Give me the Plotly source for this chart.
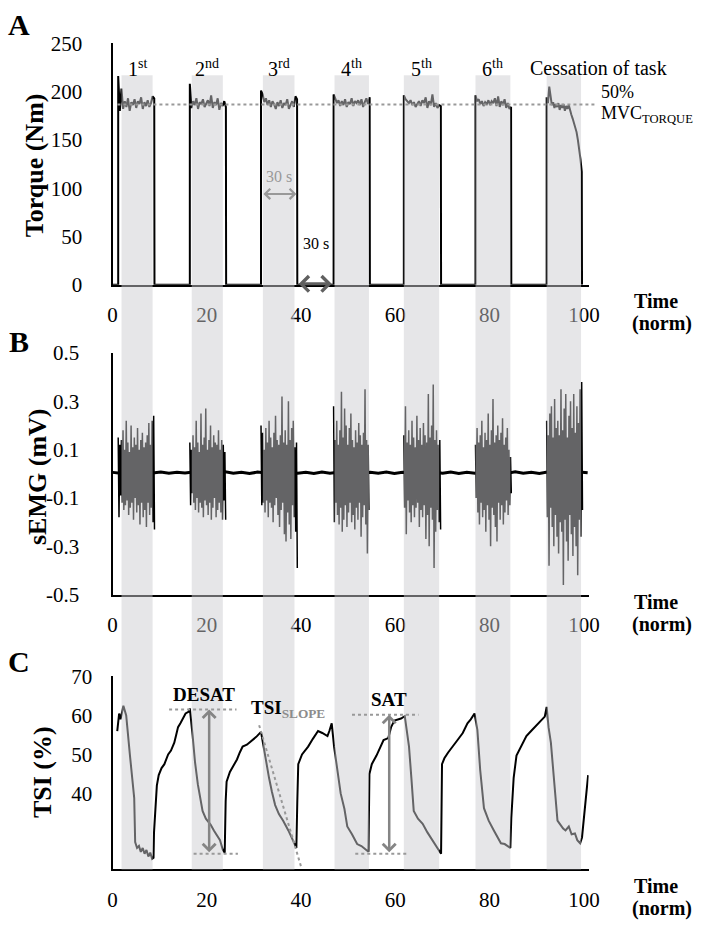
import numpy as np
import plotly.graph_objects as go

W, H = 713, 934
FONT = "Liberation Serif, Times New Roman, Times, serif"

# shared time axis (normalised time)
x_ticks = [0, 20, 40, 60, 80, 100]
ordinals = ["1<sup>st</sup>", "2<sup>nd</sup>", "3<sup>rd</sup>",
            "4<sup>th</sup>", "5<sup>th</sup>", "6<sup>th</sup>"]

# contraction windows (grey bands)
band_start = [1.9, 16.8, 31.9, 47.1, 61.8, 77.0, 92.1]
band_end = [8.5, 23.4, 38.6, 54.4, 69.3, 84.4, 99.4]

# --- A: torque (Nm)
torque_ticks = [0, 50, 100, 150, 200, 250]
torque_target = 186.5
torque_on = [1.2, 16.4, 31.5, 46.9, 61.8, 77.0, 92.1]
torque_off = [8.9, 24.1, 39.2, 54.6, 69.7, 84.6, 99.6]
torque_1 = [216, 180, 203, 182, 190, 184, 193, 180, 189, 186, 192, 183, 190, 187,
            194, 182, 189, 185, 191, 184, 188, 195, 193]
torque_2 = [208, 183, 190, 186, 193, 182, 189, 187, 192, 184, 188, 191, 185, 196,
            183, 189, 186, 193, 181, 188, 185, 190, 184]
torque_3 = [201, 197, 189, 193, 186, 191, 184, 190, 187, 182, 189, 185, 191, 183,
            188, 186, 192, 182, 187, 190, 184, 195, 192]
torque_4 = [197, 193, 188, 191, 185, 190, 186, 192, 184, 189, 187, 193, 185, 190,
            188, 191, 186, 192, 184, 189, 193, 187, 194]
torque_5 = [196, 192, 190, 188, 191, 186, 189, 184, 187, 190, 185, 191, 188, 194,
            183, 190, 186, 197, 184, 188, 183, 186, 185]
torque_6 = [196, 190, 192, 187, 190, 185, 189, 187, 191, 186, 190, 188, 193, 185,
            195, 184, 190, 186, 192, 183, 188, 182, 184]
torque_7 = [194, 188, 205, 192, 186, 189, 183, 187, 184, 188, 181, 186, 183, 187,
            180, 185, 182, 186, 179, 176, 172, 168, 163, 158, 150, 141, 130, 117]

# --- B: sEMG (mV)
emg_ticks = [-0.5, -0.3, -0.1, 0.1, 0.3, 0.5]
emg_ticklabels = ["-0.5", "-0.3", "-0.1", "0.1", "0.3", "0.5"]
emg_on = [1.2, 16.4, 31.5, 46.9, 61.8, 77.0, 92.1]
emg_off = [8.9, 24.0, 39.2, 54.4, 69.6, 84.6, 99.7]
emg_1 = [0.15, -0.18, 0.12, -0.09, 0.14, -0.12, 0.18, -0.15, 0.10, -0.13, 0.22, -0.11,
         0.13, -0.17, 0.09, -0.14, 0.20, -0.12, 0.11, -0.19, 0.15, -0.10, 0.12, -0.16,
         0.19, -0.13, 0.10, -0.21, 0.14, -0.12, 0.17, -0.18, 0.11, -0.15, 0.13, -0.22,
         0.16, -0.12, 0.21, -0.17, 0.12, -0.14, 0.22, -0.20, 0.24, -0.23]
emg_2 = [0.13, -0.13, 0.10, -0.08, 0.16, -0.12, 0.11, -0.15, 0.22, -0.10, 0.13, -0.16,
         0.09, -0.12, 0.25, -0.14, 0.12, -0.18, 0.15, -0.11, 0.27, -0.13, 0.10, -0.17,
         0.14, -0.12, 0.20, -0.19, 0.11, -0.14, 0.16, -0.10, 0.13, -0.18, 0.12, -0.15,
         0.18, -0.12, 0.10, -0.16, 0.14, -0.19, 0.12, -0.11, 0.09, -0.19]
emg_3 = [0.20, -0.13, 0.17, -0.12, 0.10, -0.16, 0.19, -0.11, 0.13, -0.18, 0.22, -0.12,
         0.15, -0.14, 0.11, -0.20, 0.17, -0.13, 0.24, -0.10, 0.14, -0.17, 0.12, -0.22,
         0.16, -0.15, 0.32, -0.12, 0.13, -0.25, 0.18, -0.28, 0.12, -0.16, 0.30, -0.21,
         0.14, -0.27, 0.19, -0.13, 0.22, -0.18, 0.11, -0.24, 0.13, -0.39]
emg_4 = [0.28, -0.20, 0.14, -0.12, 0.22, -0.17, 0.12, -0.21, 0.18, -0.14, 0.34, -0.24,
         0.15, -0.19, 0.27, -0.13, 0.20, -0.22, 0.12, -0.16, 0.19, -0.12, 0.25, -0.20,
         0.14, -0.17, 0.11, -0.23, 0.18, -0.14, 0.13, -0.19, 0.21, -0.12, 0.16, -0.26,
         0.12, -0.18, 0.17, -0.13, 0.35, -0.21, 0.14, -0.33, 0.12, -0.15]
emg_5 = [0.16, -0.14, 0.28, -0.25, 0.13, -0.11, 0.18, -0.16, 0.12, -0.20, 0.22, -0.13,
         0.15, -0.18, 0.11, -0.14, 0.24, -0.12, 0.14, -0.22, 0.19, -0.15, 0.12, -0.18,
         0.21, -0.13, 0.16, -0.27, 0.13, -0.17, 0.33, -0.30, 0.15, -0.14, 0.20, -0.19,
         0.37, -0.39, 0.14, -0.24, 0.18, -0.15, 0.12, -0.20, 0.14, -0.23]
emg_6 = [0.12, -0.10, 0.19, -0.16, 0.13, -0.21, 0.16, -0.12, 0.22, -0.18, 0.11, -0.15,
         0.17, -0.24, 0.14, -0.13, 0.25, -0.19, 0.12, -0.30, 0.18, -0.14, 0.31, -0.17,
         0.13, -0.22, 0.16, -0.28, 0.20, -0.12, 0.14, -0.19, 0.17, -0.13, 0.23, -0.21,
         0.12, -0.16, 0.15, -0.11, 0.19, -0.17, 0.10, -0.13, 0.07, -0.08]
emg_7 = [0.22, -0.18, 0.16, -0.38, 0.25, -0.14, 0.28, -0.22, 0.15, -0.30, 0.31, -0.17,
         0.19, -0.26, 0.22, -0.33, 0.16, -0.20, 0.35, -0.24, 0.18, -0.46, 0.27, -0.19,
         0.33, -0.28, 0.15, -0.36, 0.24, -0.17, 0.30, -0.25, 0.19, -0.34, 0.33, -0.22,
         0.17, -0.30, 0.28, -0.42, 0.21, -0.19, 0.35, -0.26, 0.38, -0.15]
emg_rest = [0.006, 0.002, 0.007, 0.001, 0.006, 0.003, 0.007, 0.002, 0.006, 0.003,
            0.007, 0.001, 0.006, 0.002, 0.008, 0.002, 0.006, 0.001, 0.007, 0.003,
            0.006, 0.002, 0.007, 0.002, 0.006, 0.001, 0.007, 0.002, 0.006, 0.003,
            0.008, 0.001, 0.006, 0.002, 0.007, 0.001, 0.006, 0.003, 0.007, 0.002,
            0.006, 0.002, 0.007, 0.001, 0.006, 0.002, 0.007, 0.003, 0.006, 0.002,
            0.008, 0.002, 0.006, 0.001, 0.007, 0.002, 0.006, 0.003, 0.007, 0.004]

# --- C: tissue saturation index (%)
tsi_ticks = [40, 50, 60, 70]
tsi_time = [1.0, 1.4, 1.7, 2.3, 2.9, 3.1, 3.7, 4.6, 4.8, 5.2, 5.6, 6.0, 6.4, 6.8, 7.2, 7.6, 8.0, 8.4, 8.7,
            8.8, 9.1, 9.4, 9.8, 10.4, 11.0, 11.8, 12.4, 13.1, 13.5, 13.9, 14.4, 14.9, 15.5, 16.2, 16.4,
            17.0, 17.5, 18.1, 18.6, 19.1, 19.8, 20.8, 21.5, 22.2, 22.8, 23.4, 23.8,
            24.0, 24.2, 24.9, 25.6, 26.4, 27.0, 27.6, 28.5, 29.7, 30.5, 31.5,
            32.0, 32.6, 33.2, 33.8, 34.5, 35.3, 36.2, 37.3, 38.1, 38.8, 39.0,
            39.2, 39.4, 40.2, 41.5, 42.5, 43.6, 44.5, 45.6, 46.0, 46.5,
            47.0, 47.7, 48.4, 49.2, 49.8, 50.8, 51.9, 52.8, 53.9, 54.3,
            54.5, 55.0, 56.0, 56.8, 57.5, 58.5, 59.1, 59.8, 60.5, 61.2, 62.0,
            62.4, 62.9, 63.4, 63.9, 64.8, 65.8, 66.8, 67.8, 68.6, 69.3, 69.7,
            69.9, 70.4, 71.2, 72.2, 73.2, 74.3, 75.3, 76.0, 76.8,
            77.4, 78.0, 78.8, 79.8, 80.9, 81.6, 82.4, 83.2, 84.0, 84.4,
            84.6, 85.1, 85.7, 86.7, 87.8, 88.8, 89.8, 90.8, 91.7, 92.1,
            92.5, 93.0, 93.7, 94.4, 95.0, 95.6, 96.1, 96.8, 97.4, 98.1, 98.6, 99.2, 99.6, 100.2, 100.9]
tsi_value = [56, 60.5, 59, 62.5, 60, 57, 49.7, 38.8, 27.5, 26, 26.5, 25, 26, 24.5, 25.5, 23.8, 24.8, 23.2, 23.5,
             30, 37, 42, 44.7, 46.5, 47.5, 50, 51, 53, 55, 57, 58, 59, 60.5, 61, 61.8,
             54.7, 48, 42.3, 38.5, 35.5, 33.5, 32, 30.5, 29, 28, 25.5, 24.8,
             38, 43, 45.5, 47, 48.7, 50.5, 52, 52.5, 53.7, 54.5, 55.8,
             52, 48, 44, 40.5, 37, 34.7, 33, 30.5, 28.5, 26.7, 26,
             38, 47.5, 50, 52, 54, 56, 55.5, 54.7, 56, 58,
             52, 45.5, 40, 36, 31.5, 29.5, 27, 26.5, 25.5, 25,
             45, 47.5, 49.7, 52, 53.7, 54.2, 57, 58.7, 59, 59.2, 59.8,
             56, 52, 44, 35.5, 33.5, 32.2, 30, 28, 26.5, 25.2, 24.5,
             47.5, 49, 50.5, 52, 53.7, 55.5, 58, 59, 60.5,
             56.3, 46, 36.2, 33, 30.5, 29, 27.2, 27, 26.3, 26,
             33.7, 44, 49.7, 52, 54.7, 56, 57.2, 58.5, 59.7, 62.2,
             57, 53, 42, 33, 32, 31, 30.5, 31.5, 29.5, 29.7, 28, 27.2, 28.7, 37, 44.7]
desat_top, desat_bottom = 61.5, 24.5
sat_top, sat_bottom = 60.2, 24.5


def fx(p):
    return p / W


def fy(p):
    return 1 - p / H


# torque trace: baseline, rise, plateau, fall
tq_x, tq_y = [0.0], [0.0]
for on, off, vals in zip(torque_on, torque_off,
                         [torque_1, torque_2, torque_3, torque_4, torque_5, torque_6, torque_7]):
    t = np.linspace(on, off - 0.05, len(vals))
    tq_x += [on] + list(t) + [off]
    tq_y += [0] + vals + [0]

# emg bursts
em_x, em_y = [], []
for on, off, vals in zip(emg_on, emg_off, [emg_1, emg_2, emg_3, emg_4, emg_5, emg_6, emg_7]):
    em_x += list(np.linspace(on, off, len(vals))) + [None]
    em_y += vals + [None]
rest_x = np.linspace(0, 100.8, len(emg_rest))

fig = go.Figure()
fig.add_trace(go.Scatter(x=tq_x, y=tq_y, mode="lines", line=dict(color="black", width=2),
                         xaxis="x", yaxis="y"))
fig.add_trace(go.Scatter(x=rest_x, y=emg_rest, mode="lines", line=dict(color="black", width=3),
                         xaxis="x2", yaxis="y2"))
fig.add_trace(go.Scatter(x=em_x, y=em_y, mode="lines", line=dict(color="black", width=1.5),
                         xaxis="x2", yaxis="y2"))
fig.add_trace(go.Scatter(x=tsi_time, y=tsi_value, mode="lines", line=dict(color="black", width=2),
                         xaxis="x3", yaxis="y3"))

tick_font = dict(family=FONT, size=21, color="black")


def x_axis(anchor):
    return dict(domain=[fx(110), fx(597)], range=[0, 101], anchor=anchor, tickvals=x_ticks,
                ticks="", showline=True, linecolor="black", linewidth=2, showgrid=False,
                zeroline=False, tickfont=tick_font, ticklabelstandoff=10, fixedrange=True)


def y_axis(anchor, top, bottom, rng, vals, text=None, standoff=20):
    return dict(domain=[fy(bottom), fy(top)], range=rng, anchor=anchor, tickvals=vals,
                ticktext=text if text else [str(v) for v in vals], ticks="",
                showline=True, linecolor="black", linewidth=2, showgrid=False,
                zeroline=False, tickfont=tick_font, ticklabelstandoff=standoff, fixedrange=True)


shapes = []
for s, e in zip(band_start, band_end):
    shapes.append(dict(type="rect", xref="x", yref="paper", x0=s, x1=e, y0=fy(880), y1=fy(65),
                       fillcolor="rgba(204,204,208,0.49)", line=dict(width=0), layer="above"))
dot = dict(color="#999999", width=2, dash="dot")
shapes.append(dict(type="line", xref="paper", yref="y", x0=fx(115), x1=fx(605),
                   y0=torque_target, y1=torque_target, line=dot, layer="above"))
shapes += [
    dict(type="line", xref="x3", yref="y3", x0=12.0, x1=26.3, y0=desat_top, y1=desat_top, line=dot, layer="above"),
    dict(type="line", xref="x3", yref="y3", x0=17.2, x1=26.6, y0=desat_bottom, y1=desat_bottom, line=dot, layer="above"),
    dict(type="line", xref="x3", yref="y3", x0=50.8, x1=64.9, y0=sat_top, y1=sat_top, line=dot, layer="above"),
    dict(type="line", xref="x3", yref="y3", x0=51.5, x1=62.4, y0=sat_bottom, y1=sat_bottom, line=dot, layer="above"),
    dict(type="line", xref="x3", yref="y3", x0=31.1, x1=40.0, y0=57.5, y1=21.2, line=dot, layer="above"),
]


def txt(text, x, y, size=20, color="black", xanchor="center", xref="paper", angle=0):
    return dict(text=text, x=x, y=y, xref=xref, yref="paper", showarrow=False, xanchor=xanchor,
                yanchor="middle", textangle=angle, font=dict(family=FONT, size=size, color=color))


annotations = [
    txt("<b>A</b>", fx(14), fy(13), 30),
    txt("<b>B</b>", fx(14), fy(338), 30),
    txt("<b>C</b>", fx(14), fy(667), 30),
    txt("<b>Torque (Nm)</b>", fx(31), fy(157), 26, angle=-90),
    txt("<b>sEMG (mV)</b>", fx(33), fy(477), 26, angle=-90),
    txt("<b>TSI (%)</b>", fx(39), fy(780), 26, angle=-90),
    txt("Cessation of task", fx(607), fy(57), 20),
    txt("50%", fx(608), fy(82), 18, xanchor="left"),
    txt("MVC<sub>TORQUE</sub>", fx(608), fy(105), 18, xanchor="left"),
    txt("30 s", fx(280), fy(169), 16, color="#999999"),
    txt("30 s", fx(318), fy(238), 16),
    txt("<b>DESAT</b>", fx(204), fy(700), 19),
    txt("<b>TSI<sub><span style='color:#8c8c8c'>SLOPE</span></sub></b>", fx(290), fy(715), 19),
    txt("<b>SAT</b>", fx(393), fy(706), 19),
]
for s, e, lab in zip(band_start, band_end, ordinals):
    annotations.append(txt(lab, (s + e) / 2, fy(57), 20, xref="x"))
for top in (297, 606, 897):
    annotations.append(txt("<b>Time</b>", fx(641), fy(top), 20, xanchor="left"))
    annotations.append(txt("<b>(norm)</b>", fx(639), fy(top + 23), 20, xanchor="left"))


def arrow(x0, x1, y0, y1, xr, yr, color, width=2):
    return dict(x=x1, y=y1, ax=x0, ay=y0, xref=xr, yref=yr, axref=xr, ayref=yr, text="",
                showarrow=True, arrowside="end+start", arrowhead=4, startarrowhead=4,
                arrowsize=1, startarrowsize=1, arrowwidth=width, arrowcolor=color)


annotations += [
    arrow(31.7, 39.0, 94, 94, "x", "y", "#999999"),
    arrow(39.2, 46.5, 1, 1, "x", "y", "#606060", 3),
    arrow(20.5, 20.5, desat_bottom, desat_top, "x3", "y3", "#858585", 2.5),
    arrow(58.7, 58.7, sat_bottom, sat_top, "x3", "y3", "#858585", 2.5),
]

fig.update_layout(
    width=W, height=H, margin=dict(l=0, r=0, t=0, b=0),
    paper_bgcolor="white", plot_bgcolor="white", showlegend=False,
    font=dict(family=FONT, color="black"),
    xaxis=x_axis("y"), xaxis2=x_axis("y2"), xaxis3=x_axis("y3"),
    yaxis=y_axis("x", 32, 280, [0, 250], torque_ticks, standoff=24),
    yaxis2=y_axis("x2", 350, 598, [-0.5, 0.5], emg_ticks, emg_ticklabels, standoff=27),
    yaxis3=y_axis("x3", 682, 880, [20.5, 70], tsi_ticks, standoff=14),
    shapes=shapes, annotations=annotations,
)

fig.write_html("out.html", config={"displayModeBar": False},
               post_script="document.body.style.margin='0';")
